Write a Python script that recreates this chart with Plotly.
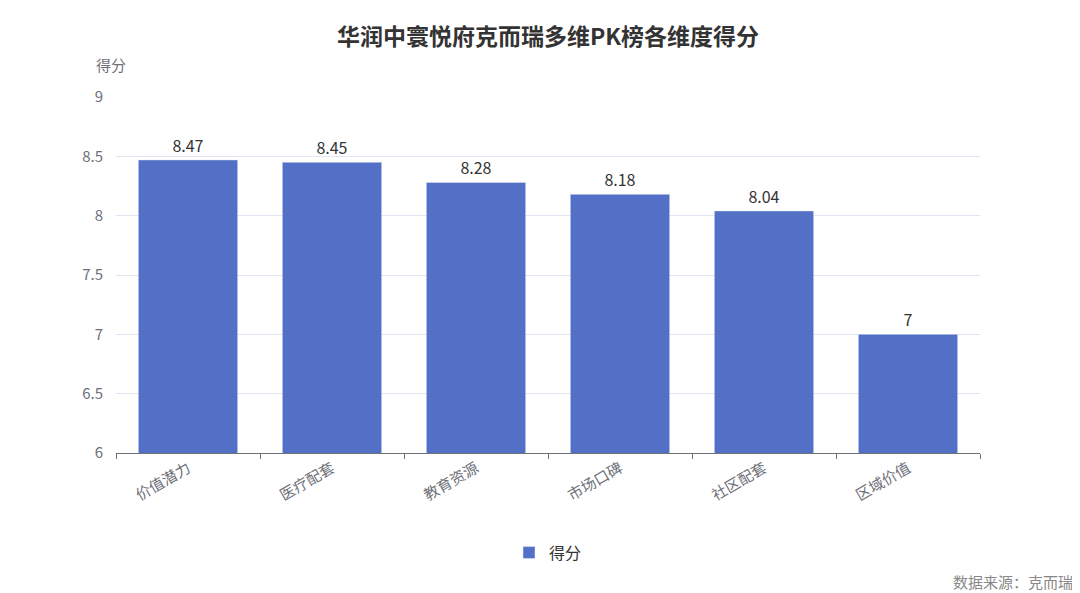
import plotly.graph_objects as go

categories = ["价值潜力", "医疗配套", "教育资源", "市场口碑", "社区配套", "区域价值"]
scores = [8.47, 8.45, 8.28, 8.18, 8.04, 7]
labels = ["8.47", "8.45", "8.28", "8.18", "8.04", "7"]

font = "Noto Sans CJK SC"
fig = go.Figure(go.Bar(
    x=categories, y=scores, name="得分", marker_color="#5470c6",
    width=0.69, text=labels, textposition="outside",
    textfont=dict(size=16, color="#333", family=font), cliponaxis=False,
))
fig.update_layout(
    width=1080, height=593, plot_bgcolor="white", paper_bgcolor="white",
    margin=dict(l=108, r=108, t=89, b=148, autoexpand=False),
    font=dict(family=font, color="#6e7079", size=15),
    title=dict(text="<b>华润中寰悦府克而瑞多维PK榜各维度得分</b>", x=0.5, y=0.965,
               xanchor="center", font=dict(size=23, color="#333", family=font)),
    showlegend=True,
    legend=dict(orientation="h", x=0.5, xanchor="center", y=-0.28, yanchor="middle",
                font=dict(size=16, color="#333")),
    bargap=0.31,
    annotations=[
        dict(text="得分", xref="paper", yref="paper", x=-0.025, y=1.055, showarrow=False,
             xanchor="left", yanchor="bottom", font=dict(size=15, color="#6e7079")),
        dict(text="数据来源：克而瑞", xref="paper", yref="paper", x=1.11, y=-0.36,
             showarrow=False, xanchor="right", yanchor="middle",
             font=dict(size=15, color="#888")),
    ],
)
fig.update_yaxes(range=[6, 9], dtick=0.5, gridcolor="#e0e6f1", zeroline=False,
                 showline=False, ticks="", ticklabelstandoff=12, automargin=False)
fig.update_xaxes(showline=True, linecolor="#6e7079", ticks="outside", tickcolor="#6e7079",
                 ticklen=5, tickangle=-30, tickson="boundaries", automargin=False)
fig.write_html("out.html")
